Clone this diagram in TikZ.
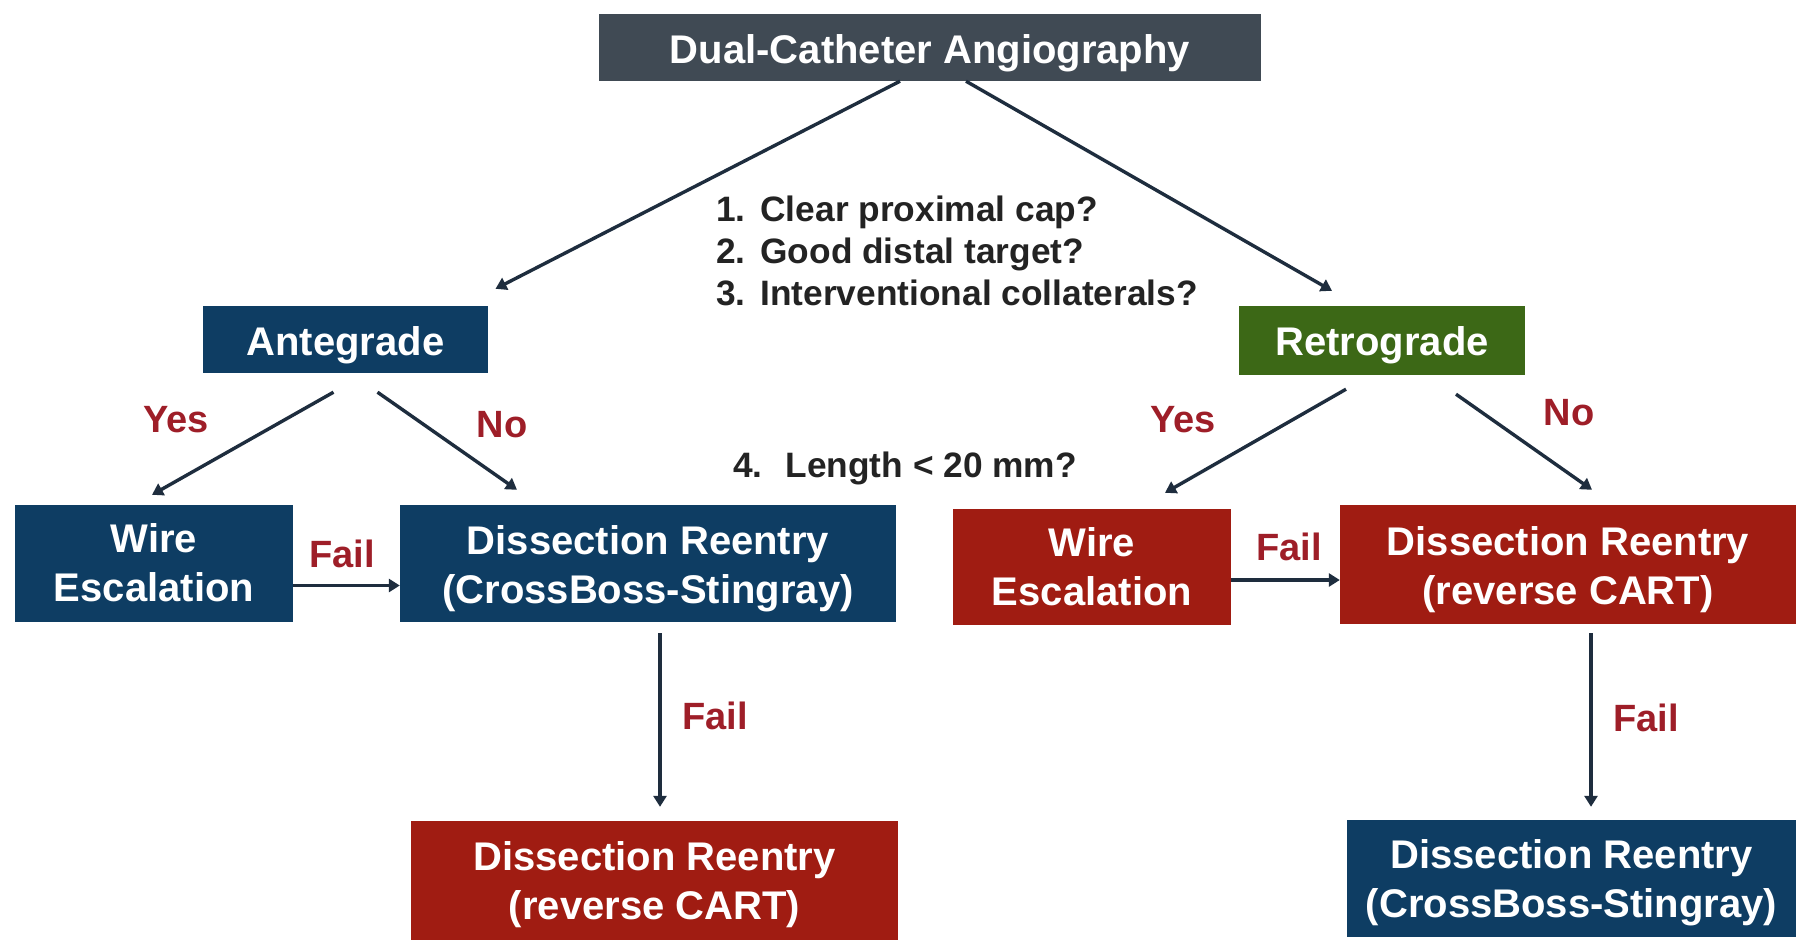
\documentclass[tikz,border=0pt]{standalone}
\usepackage{fontspec}
\setmainfont{Liberation Sans}
\usetikzlibrary{calc,arrows.meta}
\definecolor{navy}{RGB}{14,61,99}
\definecolor{boxred}{RGB}{160,28,18}
\definecolor{grn}{RGB}{60,104,22}
\definecolor{slate}{RGB}{64,74,84}
\definecolor{lblred}{RGB}{158,30,40}
\definecolor{arrowc}{RGB}{30,45,62}
\definecolor{qgray}{RGB}{35,35,35}
\newcommand{\bxtext}[2]{\raisebox{-#1}[\height][\depth]{\renewcommand{\arraystretch}{1.02}\begin{tabular}{@{}c@{}}#2\end{tabular}}}
\begin{document}
\begin{tikzpicture}[x=1pt,y=-1pt,
  box/.style={rectangle, inner sep=0pt, text=white, align=center,
    font=\fontsize{40}{48}\selectfont\bfseries},
  lbl/.style={text=lblred, inner sep=0pt, font=\fontsize{38}{44}\selectfont\bfseries},
  qtext/.style={text=qgray, inner sep=0pt, align=left, font=\fontsize{35.3}{42}\selectfont\bfseries},
  arr/.style={draw=arrowc, line width=3.4pt, -{Triangle[length=11pt,width=13pt]}}
]
\useasboundingbox[fill=white] (0,0) rectangle (1796,940);

% boxes
\node[box, fill=slate, minimum width=662pt, minimum height=67pt] (top) at (930,47.5) {\bxtext{6pt}{Dual-Catheter Angiography}};
\node[box, fill=navy, minimum width=285pt, minimum height=67pt] (ante) at (345.5,339.5) {\bxtext{6pt}{Antegrade}};
\node[box, fill=grn, minimum width=286pt, minimum height=69pt] (retro) at (1382,340.5) {\bxtext{5pt}{Retrograde}};
\node[box, fill=navy, minimum width=278pt, minimum height=117pt] (wireL) at (154,563.5) {\bxtext{4pt}{Wire\\Escalation}};
\node[box, fill=navy, minimum width=496pt, minimum height=117pt] (dissL) at (648,563.5) {\bxtext{6pt}{Dissection Reentry\\(CrossBoss-Stingray)}};
\node[box, fill=boxred, minimum width=278pt, minimum height=116pt] (wireR) at (1092,567) {\bxtext{4pt}{Wire\\Escalation}};
\node[box, fill=boxred, minimum width=456pt, minimum height=119pt] (dissR) at (1568,564.5) {\bxtext{6pt}{Dissection Reentry\\(reverse CART)}};
\node[box, fill=boxred, minimum width=487pt, minimum height=119pt] (botL) at (654.5,880.5) {\bxtext{5pt}{Dissection Reentry\\(reverse CART)}};
\node[box, fill=navy, minimum width=449pt, minimum height=117pt] (botR) at (1571.5,878.5) {\bxtext{5pt}{Dissection Reentry\\(CrossBoss-Stingray)}};

% question texts
\node[qtext, anchor=west] (q) at (716,255.5) {\begin{tabular}{@{}l@{\hspace{0.42em}}l@{}}1.&Clear proximal cap?\\2.&Good distal target?\\3.&Interventional collaterals?\end{tabular}};
\node[qtext, anchor=west] (q4) at (733,468) {4.\hspace{0.65em}Length < 20 mm?};

% connectors
\draw[arr] ($(top.south)+(-30,0)$) -- ($(ante.north)+(150,-17)$);
\draw[arr] ($(top.south)+(36,0)$) -- ($(retro.north)+(-50,-15)$);
\draw[arr] ($(ante.south)+(-12,19)$) -- ($(wireL.north)+(-2,-10)$);
\draw[arr] ($(ante.south)+(32,19)$) -- ($(dissL.north)+(-131,-15)$);
\draw[arr] ($(retro.south)+(-36,14)$) -- ($(wireR.north)+(73,-16)$);
\draw[arr] ($(retro.south)+(74,19)$) -- ($(dissR.north)+(24,-15)$);
\coordinate (fl) at ($(wireL.east)+(0,22)$);
\draw[arr] (fl) -- (fl -| dissL.west);
\coordinate (fr) at ($(wireR.east)+(0,13)$);
\draw[arr] (fr) -- (fr -| dissR.west);
\coordinate (vl) at ($(dissL.south)+(12,11)$);
\draw[arr, shorten >=14pt] (vl) -- (vl |- botL.north);
\coordinate (vr) at ($(dissR.south)+(23,9)$);
\draw[arr, shorten >=13pt] (vr) -- (vr |- botR.north);

% labels
\node[lbl] (yesL) at (176,420) {Yes};
\node[lbl] (noL) at (502,425) {No};
\node[lbl] (yesR) at (1183,420) {Yes};
\node[lbl] (noR) at (1569,413) {No};
\node[lbl] (failL) at (342,554) {Fail};
\node[lbl] (failR) at (1289,547) {Fail};
\node[lbl] (failVL) at (715,716) {Fail};
\node[lbl] (failVR) at (1646,718) {Fail};
\end{tikzpicture}
\end{document}
